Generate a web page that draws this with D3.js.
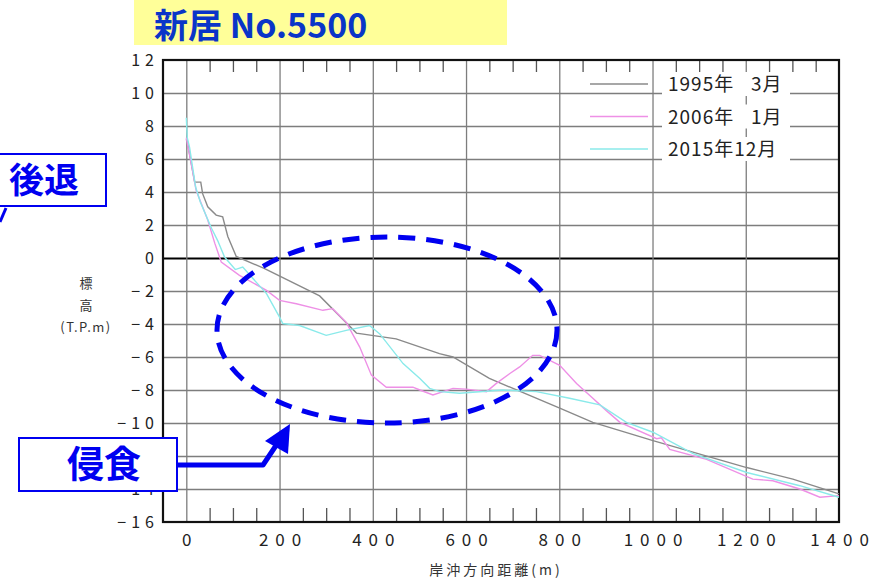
<!DOCTYPE html>
<html>
<head>
<meta charset="utf-8">
<script src="https://cdn.jsdelivr.net/npm/d3@7"></script>
<style>
  body { margin: 0; background: #fff; }
  text { font-family: "Noto Sans CJK JP", "Noto Sans", sans-serif; }
</style>
</head>
<body>
<svg width="888" height="581"></svg>
<script>
// profile data (distance m / elevation T.P.m)
const dist1995 = [0, 3, 18, 31, 35, 46, 64, 78, 89, 107, 168, 286, 365, 450, 543, 572, 650, 801, 872, 1001, 1202, 1301, 1400];
const elev1995 = [7.2, 6.9, 4.6, 4.6, 3.9, 3.1, 2.6, 2.5, 1.3, 0.1, -0.65, -2.3, -4.55, -4.9, -5.8, -6.0, -7.3, -9.1, -9.96, -11.07, -12.7, -13.4, -14.3];

const dist2006 = [0, 10, 21, 46, 61, 75, 114, 172, 200, 236, 293, 314, 343, 372, 397, 429, 486, 501, 529, 572, 600, 644, 665, 694, 715, 743, 758, 801, 837, 872, 901, 930, 1009, 1019, 1037, 1116, 1215, 1258, 1316, 1359, 1400];
const elev2006 = [7.3, 5.8, 4.1, 2.3, 0.9, -0.25, -1.05, -1.96, -2.57, -2.77, -3.17, -3.07, -3.9, -5.4, -7.1, -7.83, -7.83, -8.0, -8.3, -7.9, -7.95, -8.1, -7.6, -7.0, -6.6, -5.9, -5.9, -6.5, -7.6, -8.5, -9.25, -9.96, -10.95, -10.9, -11.6, -12.2, -13.4, -13.5, -14.0, -14.5, -14.4];

const dist2015 = [0, 2, 7, 20, 30, 54, 67, 82, 93, 105, 121, 172, 200, 207, 243, 300, 343, 393, 415, 465, 501, 522, 544, 586, 679, 751, 822, 887, 944, 1001, 1087, 1202, 1316, 1400];
const elev2015 = [8.5, 7.3, 6.7, 4.3, 3.4, 1.8, 1.07, 0.06, -0.3, -0.7, -0.55, -2.16, -3.58, -3.97, -4.09, -4.69, -4.39, -4.09, -4.6, -6.4, -7.3, -7.9, -8.1, -8.2, -8.0, -8.1, -8.5, -8.9, -9.96, -10.56, -11.86, -13.0, -13.8, -14.5];

const seriesNames = ['1995年\u2007 3月', '2006年\u2007 1月', '2015年12月'];
const seriesColors = ['#8a8a8a', '#ee90e6', '#8aeaea'];

const xTicks = [0, 200, 400, 600, 800, 1000, 1200, 1400];
const yTicks = [-16, -14, -12, -10, -8, -6, -4, -2, 0, 2, 4, 6, 8, 10, 12];

const svg = d3.select('svg');
const margin = {left: 163, top: 60, right: 49, bottom: 59};
const width = +svg.attr('width') - margin.left - margin.right;
const height = +svg.attr('height') - margin.top - margin.bottom;

const xScale = d3.scaleLinear().domain([-50, 1400]).range([0, width]);
const yScale = d3.scaleLinear().domain([-16, 12]).range([height, 0]);

// title
svg.append('rect').attr('x', 134).attr('y', 0).attr('width', 373).attr('height', 45).attr('fill', '#ffff99');
svg.append('text').attr('x', 154).attr('y', 38)
  .attr('font-size', 34).attr('font-weight', 700).attr('fill', '#0a35c8')
  .text('新居 No.5500');

const g = svg.append('g').attr('transform', `translate(${margin.left},${margin.top})`);

// grid lines
const yGrid = g.append('g').call(d3.axisLeft(yScale).tickValues(yTicks.slice(1, -1)).tickSize(-width).tickFormat(''));
const xGrid = g.append('g').attr('transform', `translate(0,${height})`)
  .call(d3.axisBottom(xScale).tickValues(xTicks.slice(0, -1)).tickSize(-height).tickFormat(''));
g.selectAll('.domain').remove();
g.selectAll('.tick line').attr('stroke', '#7d7d7d').attr('stroke-width', 1.3);
yGrid.selectAll('.tick').filter(d => d === 0).select('line').attr('stroke', '#000').attr('stroke-width', 2);

// minor ticks on top and bottom
const minor = d3.range(50, 1400, 50).filter(v => v % 200 !== 0);
g.append('g').call(d3.axisTop(xScale).tickValues(minor).tickSize(-12).tickFormat(''))
  .call(a => a.select('.domain').remove())
  .selectAll('line').attr('stroke', '#555').attr('stroke-width', 1.3);
g.append('g').attr('transform', `translate(0,${height})`)
  .call(d3.axisBottom(xScale).tickValues(minor).tickSize(-14).tickFormat(''))
  .call(a => a.select('.domain').remove())
  .selectAll('line').attr('stroke', '#555').attr('stroke-width', 1.3);

// frame
g.append('rect').attr('width', width).attr('height', height)
  .attr('fill', 'none').attr('stroke', '#111').attr('stroke-width', 2.2);

// tick labels
const yAxisG = g.append('g').call(d3.axisLeft(yScale).tickValues(yTicks).tickSize(0).tickPadding(9)
  .tickFormat(d => (d < 0 ? '\u2212' : '') + Math.abs(d)));
yAxisG.select('.domain').remove();
yAxisG.selectAll('text').attr('font-size', 16).attr('fill', '#222')
  .attr('letter-spacing', '5px').attr('dx', 5)
  .style('font-family', '"Noto Sans CJK JP", sans-serif');

const xAxisG = g.append('g').attr('transform', `translate(0,${height})`)
  .call(d3.axisBottom(xScale).tickValues(xTicks).tickSize(0).tickPadding(12).tickFormat(d3.format('d')));
xAxisG.select('.domain').remove();
xAxisG.selectAll('text').attr('font-size', 17).attr('fill', '#222')
  .attr('letter-spacing', '7px').attr('dx', 3.5)
  .style('font-family', '"Noto Sans CJK JP", sans-serif');

// axis titles
svg.append('text').attr('x', 496).attr('y', 575).attr('text-anchor', 'middle')
  .attr('font-size', 14).attr('letter-spacing', '3px').attr('fill', '#333')
  .text('岸沖方向距離(m)');
const yTitle = svg.append('text').attr('text-anchor', 'middle').attr('font-size', 13).attr('fill', '#333');
[['標', 288, 0], ['高', 310, 0], ['(T.P.m)', 332, 1.5]].forEach(([t, y, ls]) => {
  yTitle.append('tspan').attr('x', 86).attr('y', y).attr('letter-spacing', ls + 'px').text(t);
});

// profile lines
const line = d3.line().x(d => xScale(d[0])).y(d => yScale(d[1]));
const profiles = [
  d3.zip(dist1995, elev1995),
  d3.zip(dist2006, elev2006),
  d3.zip(dist2015, elev2015)
];
g.selectAll('.profile').data(profiles).enter().append('path')
  .attr('class', 'profile')
  .attr('d', line)
  .attr('fill', 'none')
  .attr('stroke', (d, i) => seriesColors[i])
  .attr('stroke-width', 1.4);

// legend
const legend = svg.append('g');
seriesNames.forEach((name, i) => {
  const y = 84 + i * 32.5;
  legend.append('line').attr('x1', 590).attr('x2', 648).attr('y1', y).attr('y2', y)
    .attr('stroke', seriesColors[i]).attr('stroke-width', 1.6);
  legend.append('rect').attr('x', 662).attr('y', y - 12).attr('width', 128).attr('height', 24).attr('fill', '#fff');
  legend.append('text').attr('x', 668).attr('y', y + 7)
    .attr('font-size', 19).attr('letter-spacing', '1px').attr('fill', '#222').text(name);
});

// annotations
const blue = '#0000f0';
svg.append('ellipse').attr('cx', 387).attr('cy', 330).attr('rx', 170).attr('ry', 93)
  .attr('fill', 'none').attr('stroke', blue).attr('stroke-width', 5).attr('stroke-dasharray', '17 11');

svg.append('rect').attr('x', -2).attr('y', 154).attr('width', 108).attr('height', 52)
  .attr('fill', '#fff').attr('stroke', blue).attr('stroke-width', 2);
svg.append('text').attr('x', 44).attr('y', 193).attr('text-anchor', 'middle')
  .attr('font-size', 35).attr('font-weight', 700).attr('fill', blue).text('後退');
svg.append('line').attr('x1', 6).attr('y1', 208).attr('x2', 0).attr('y2', 222)
  .attr('stroke', blue).attr('stroke-width', 3);

svg.append('polyline').attr('points', '177,465 263,465 281,438')
  .attr('fill', 'none').attr('stroke', blue).attr('stroke-width', 5).attr('stroke-linejoin', 'round');
svg.append('polygon').attr('points', '290,424 265,441 288,454').attr('fill', blue);
svg.append('rect').attr('x', 19).attr('y', 438).attr('width', 158).attr('height', 53)
  .attr('fill', '#fff').attr('stroke', blue).attr('stroke-width', 2);
svg.append('text').attr('x', 104).attr('y', 478).attr('text-anchor', 'middle')
  .attr('font-size', 37).attr('font-weight', 700).attr('fill', blue).text('侵食');
</script>
</body>
</html>
